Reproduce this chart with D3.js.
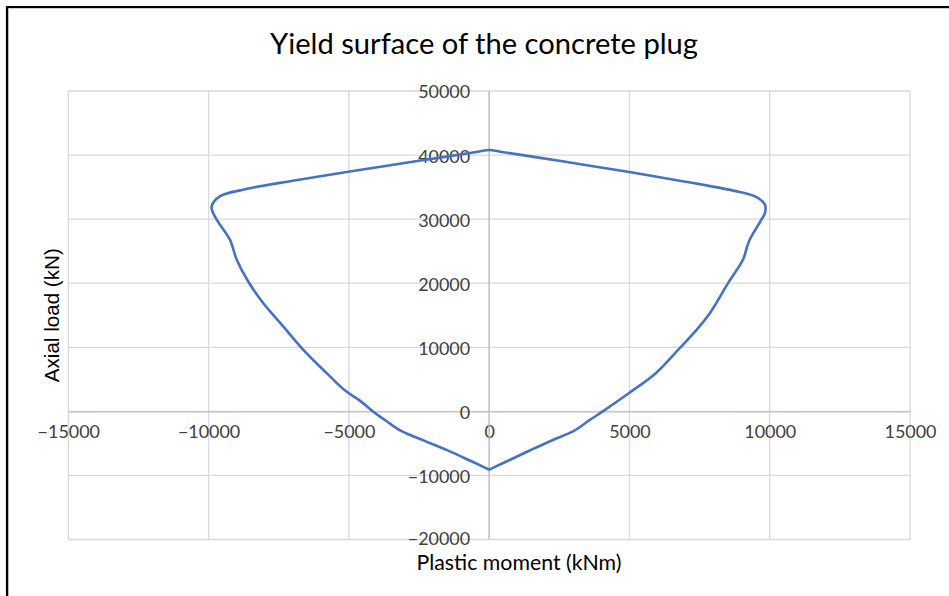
<!DOCTYPE html>
<html>
<head>
<meta charset="utf-8">
<script src="https://cdn.jsdelivr.net/npm/d3@7"></script>
<style>
  html, body { margin: 0; padding: 0; background: #ffffff; }
  svg { display: block; }
</style>
</head>
<body>
<svg id="chart" width="949" height="596"></svg>
<script>
// Interaction curve of the plug section: plastic moment (kNm) vs axial load (kN),
// traced as a closed loop starting at the pure-tension point.
const momentKNm = [
  0, 150, 750, 1500, 2250, 3000, 3600, 4050, 5000, 5950, 6800, 7400, 7870,
  8520, 9050, 9200, 9300, 9700, 9830, 9830, 9530, 8700, 7000, 5000, 2500, 400,
  0,
  -400, -2500, -4970, -7000, -8770, -9600, -9890, -9840, -9650, -9240, -9000,
  -8620, -8055, -7340, -6630, -5800, -5120, -4630, -4070, -3650, -3120,
  -2300, -1500, -750, -150, 0
];
const axialKN = [
  -9100, -8790, -7550, -6000, -4500, -3100, -1300, 0, 2900, 6000, 9900, 12750, 15350,
  20050, 23700, 25800, 26900, 29900, 30950, 32250, 33450, 34450, 35850, 37350, 39100, 40520,
  40800,
  40520, 39100, 37450, 36000, 34600, 33550, 32000, 30950, 29500, 26800, 23700,
  20500, 16900, 13250, 9650, 6000, 3200, 1750, -250, -1550, -3100,
  -4600, -6050, -7550, -8790, -9100
];

const xTicks = [-15000, -10000, -5000, 0, 5000, 10000, 15000];
const yTicks = [-20000, -10000, 0, 10000, 20000, 30000, 40000, 50000];

const chartTitle = "Yield surface of the concrete plug";
const xTitle = "Plastic moment (kNm)";
const yTitle = "Axial load (kN)";

const svg = d3.select("#chart");
const plot = { left: 68.3, right: 910, top: 91, bottom: 539.5 };

const x = d3.scaleLinear().domain([-15000, 15000]).range([plot.left, plot.right]);
const y = d3.scaleLinear().domain([-20000, 50000]).range([plot.bottom, plot.top]);

const calibriLike = "Lato, 'Open Sans', 'Noto Sans', sans-serif";

// size text so that it spans a given width
function fitText(sel, width) {
  const node = sel.node();
  const base = parseFloat(sel.attr("font-size"));
  const w = node.getComputedTextLength();
  sel.attr("font-size", (base * width / w).toFixed(2));
  return sel;
}

// outer frame: black rule on top and left with a faint inner shadow
svg.append("line").attr("x1", 7).attr("x2", 949).attr("y1", 7).attr("y2", 7)
  .attr("stroke", "#d0d0d0").attr("stroke-width", 1).attr("transform", "translate(1,1.5)");
svg.append("line").attr("x1", 7).attr("x2", 7).attr("y1", 7).attr("y2", 596)
  .attr("stroke", "#d0d0d0").attr("stroke-width", 1).attr("transform", "translate(1.5,1)");
svg.append("line").attr("x1", 6).attr("x2", 949).attr("y1", 7).attr("y2", 7)
  .attr("stroke", "#000").attr("stroke-width", 2.2);
svg.append("line").attr("x1", 7).attr("x2", 7).attr("y1", 6).attr("y2", 596)
  .attr("stroke", "#000").attr("stroke-width", 2.2);

// gridlines
const grid = svg.append("g");
grid.selectAll("line.vx").data(xTicks).join("line")
  .attr("x1", d => x(d)).attr("x2", d => x(d))
  .attr("y1", plot.top).attr("y2", plot.bottom)
  .attr("stroke", "#d9d9d9").attr("stroke-width", 1.3);
grid.selectAll("line.hy").data(yTicks).join("line")
  .attr("x1", plot.left).attr("x2", plot.right)
  .attr("y1", d => y(d)).attr("y2", d => y(d))
  .attr("stroke", "#d9d9d9").attr("stroke-width", 1.3);

// axes crossing at the origin
const xAxis = d3.axisBottom(x).tickValues(xTicks).tickSize(0).tickPadding(0).tickFormat(d3.format("d"));
const gx = svg.append("g").attr("transform", `translate(0,${y(0)})`).call(xAxis);
gx.select(".domain").attr("stroke", "#bfbfbf").attr("stroke-width", 1.3);
gx.selectAll("text")
  .attr("font-family", calibriLike).attr("font-size", 15.5).attr("fill", "#404040")
  .attr("dy", null).attr("y", 26.5);

const yAxis = d3.axisLeft(y).tickValues(yTicks).tickSize(0).tickPadding(0).tickFormat(d3.format("d"));
const gy = svg.append("g").attr("transform", `translate(${x(0) - 19},0)`).call(yAxis);
gy.select(".domain").remove();
gy.selectAll("text")
  .attr("font-family", calibriLike).attr("font-size", 15.5).attr("fill", "#404040")
  .attr("dy", "0.36em").attr("y", d => d === -20000 ? -1.5 : 0.5);
svg.append("line").attr("x1", x(0)).attr("x2", x(0)).attr("y1", plot.top).attr("y2", plot.bottom)
  .attr("stroke", "#bfbfbf").attr("stroke-width", 1.3);

// fit tick labels to measured widths
fitText(gy.selectAll("text").filter(d => d === 50000), 52);
const tickSize = gy.selectAll("text").filter(d => d === 50000).attr("font-size");
gy.selectAll("text").attr("font-size", tickSize);
gx.selectAll("text").attr("font-size", tickSize);

// yield surface
const pts = momentKNm.map((m, i) => [m, axialKN[i]]);
const line = d3.line()
  .x(d => x(d[0])).y(d => y(d[1]))
  .curve(d3.curveCatmullRom.alpha(0.5));
svg.append("path").datum(pts)
  .attr("d", line)
  .attr("fill", "none")
  .attr("stroke", "#4472c4")
  .attr("stroke-width", 2.6)
  .attr("stroke-linejoin", "round")
  .attr("stroke-linecap", "round");

// titles
const title = svg.append("text")
  .attr("x", 484).attr("y", 54)
  .attr("text-anchor", "middle")
  .attr("font-family", calibriLike).attr("font-size", 24).attr("fill", "#000")
  .text(chartTitle);
fitText(title, 428);

const xt = svg.append("text")
  .attr("x", 519).attr("y", 569.5)
  .attr("text-anchor", "middle")
  .attr("font-family", calibriLike).attr("font-size", 18).attr("fill", "#000")
  .text(xTitle);
fitText(xt, 205);

const yt = svg.append("text")
  .attr("transform", `translate(59,${(plot.top + plot.bottom) / 2}) rotate(-90)`)
  .attr("text-anchor", "middle")
  .attr("font-family", "'Liberation Sans', Arial, sans-serif").attr("font-size", 16).attr("fill", "#000")
  .text(yTitle);
fitText(yt, 134);
</script>
</body>
</html>
